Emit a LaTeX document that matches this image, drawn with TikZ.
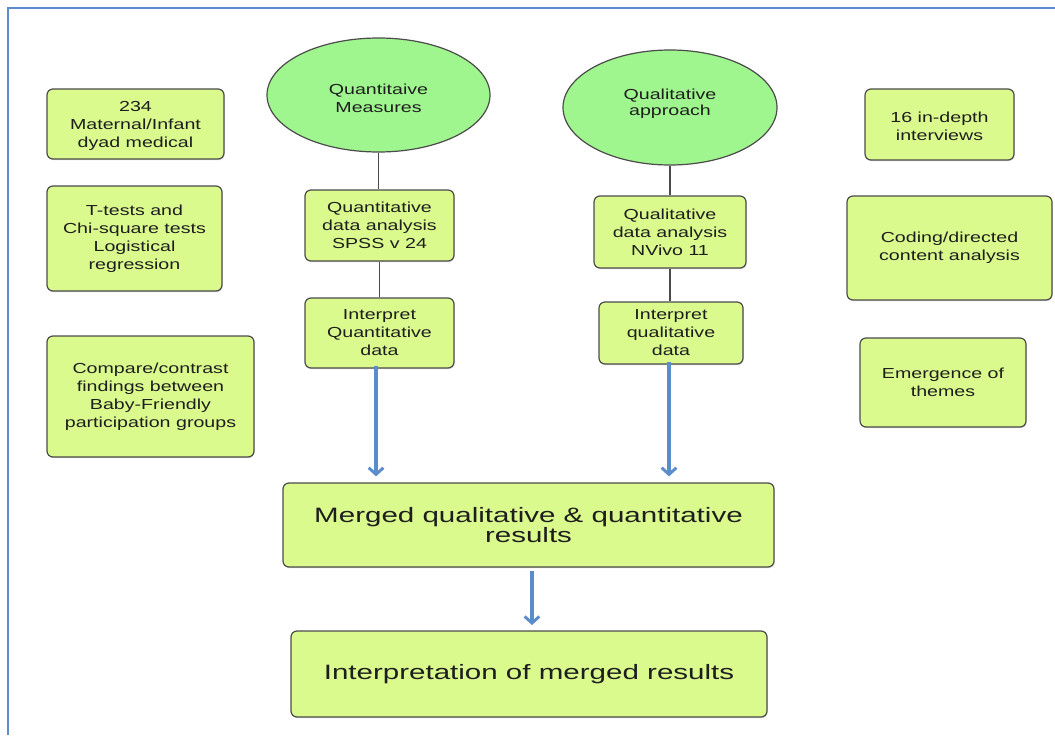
\documentclass[tikz,border=0pt]{standalone}
\usepackage{fontspec}
\newfontfamily\diafont[FakeStretch=1.35]{Liberation Sans}
\newfontfamily\diafontb[FakeStretch=1.42]{Liberation Sans}
\usetikzlibrary{shapes.geometric,arrows.meta,shadows}
\definecolor{boxfill}{RGB}{219,250,142}
\definecolor{ellfill}{RGB}{160,246,142}
\definecolor{edgegray}{RGB}{75,75,75}
\definecolor{arrowblue}{RGB}{91,141,204}
\definecolor{frameblue}{RGB}{92,140,205}
\definecolor{txt}{RGB}{30,30,30}
\newcommand\smallfont{\diafont\fontsize{10.9}{13.5}\selectfont}
\newcommand\bigfont{\diafontb\fontsize{15.6}{15.2}\selectfont}
\begin{document}
\begin{tikzpicture}[x=0.75pt,y=-0.75pt,
  sz/.style 2 args={minimum width=#1*0.75pt, minimum height=#2*0.75pt},
  box/.style={draw=edgegray, fill=boxfill, rounded corners=4.5pt, line width=0.9pt,
    inner sep=0pt, align=center, font=\smallfont, text=txt,
    drop shadow={shadow xshift=0.5pt, shadow yshift=-0.9pt, opacity=0.3}},
  bigbox/.style={box, font=\bigfont},
  oval/.style={ellipse, draw=edgegray, fill=ellfill, line width=0.9pt,
    inner sep=0pt, align=center, font=\smallfont, text=txt},
  link/.style={draw=edgegray, line width=1.1pt},
  barrow/.style={draw=arrowblue, line width=2.4pt,
    -{Straight Barb[length=5pt,width=11pt,line width=2.2pt]}},
  frameline/.style={draw=frameblue, line width=2pt}
]
\useasboundingbox (0,0) rectangle (1055,735);
% frame
\coordinate (fa) at (8,735);
\coordinate (fb) at (8,8);
\coordinate (fc) at (1055,8);
\draw[frameline] (fa) -- (fb) -- (fc);

% left column
\node[box, sz={177}{70}] (b1) at (135.5,124) {\rule{0pt}{10pt}234\\Maternal/Infant\\dyad medical};
\node[box, sz={175}{105}] (b2) at (134.5,238.5) {T-tests and\\Chi-square tests\\Logistical\\regression};
\node[box, sz={207}{121}] (b3) at (150.5,396.5) {Compare/contrast\\findings between\\Baby-Friendly\\participation groups};

% quantitative branch
\node[oval, sz={223}{114}] (e1) at (378.5,95) {\rule{0pt}{12.5pt}Quantitaive\\Measures};
\node[box, sz={149}{71}] (q1) at (379.5,225.5) {Quantitative\\data analysis\\SPSS v 24};
\node[box, sz={149}{70}] (q2) at (379.5,333) {Interpret\\Quantitative\\data};

% qualitative branch
\node[oval, sz={214}{115}] (e2) at (670,107.5) {Qualitative\\[-1.9pt]approach\\[-5.6pt]\mbox{}};
\node[box, sz={152}{72}] (l1) at (670,232) {Qualitative\\data analysis\\NVivo 11};
\node[box, sz={144}{62}] (l2) at (671,333) {Interpret\\qualitative\\data};

% right column
\node[box, sz={149}{71}] (r1) at (939.5,124.5) {\rule{0pt}{10pt}16 in-depth\\interviews};
\node[box, sz={205}{104}] (r2) at (949.5,248) {Coding/directed\\content analysis};
\node[box, sz={166}{89}] (r3) at (943,382.5) {Emergence of\\themes};

% merged
\node[bigbox, sz={491}{84}] (m) at (528.5,525) {Merged qualitative \& quantitative\\results};
\node[bigbox, sz={476}{86}] (f) at (529,674) {Interpretation of merged results};

% gray links
\draw[link] (e1.south) -- (e1.south |- q1.north);
\draw[link] (q1.south) -- (q2.north);
\draw[link] (e2.south) -- (l1.north);
\draw[link] (l1.south) -- (l1.south |- l2.north);

% blue arrows
\draw[barrow] ([xshift=-2.6pt,yshift=2.2pt]q2.south) -- ([xshift=-2.6pt,yshift=4.5pt]q2.south |- m.north);
\draw[barrow] ([xshift=-1.5pt,yshift=2.2pt]l2.south) -- ([xshift=-1.5pt,yshift=4.5pt]l2.south |- m.north);
\draw[barrow] ([xshift=2.6pt,yshift=-2.2pt]m.south) -- ([xshift=2.6pt,yshift=4pt]m.south |- f.north);
\end{tikzpicture}
\end{document}
